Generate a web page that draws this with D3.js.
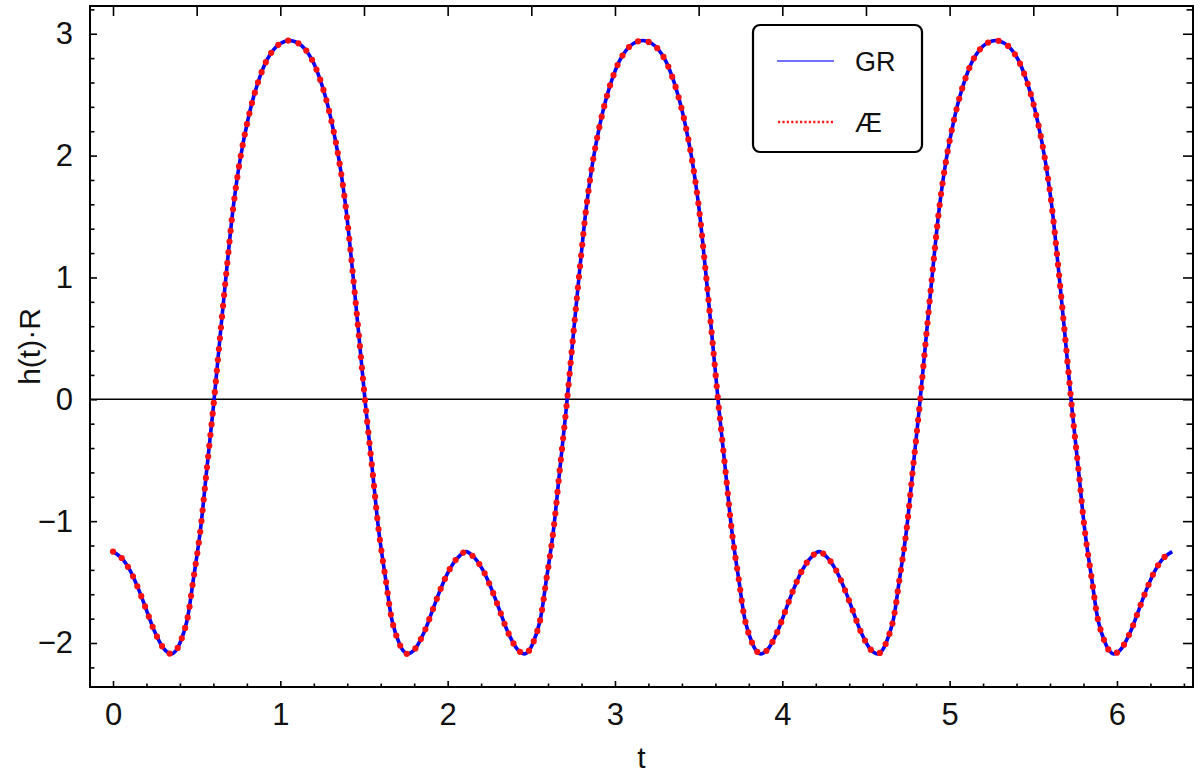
<!DOCTYPE html>
<html>
<head>
<meta charset="utf-8">
<script src="https://cdn.jsdelivr.net/npm/d3@7"></script>
<style>
  html, body { margin: 0; padding: 0; background: #fff; }
  svg { display: block; }
  text { font-family: "Liberation Sans", Arial, sans-serif; fill: #111; }
</style>
</head>
<body>
<svg id="chart" width="1200" height="777"></svg>
<script>
// ---- data ----
const tValues = [
  0.00, 0.05, 0.10, 0.15, 0.20, 0.25, 0.30, 0.325, 0.35, 0.375, 0.40, 0.44, 0.48, 0.52, 0.56, 0.60, 0.64, 0.68, 0.72, 0.76, 0.80, 0.84, 0.88, 0.92, 0.96, 1.00, 1.055,
  1.11, 1.15, 1.19, 1.23, 1.27, 1.31, 1.35, 1.39, 1.43, 1.47, 1.51, 1.55, 1.59, 1.63, 1.67, 1.71, 1.735, 1.76, 1.785, 1.81, 1.86, 1.91, 1.96, 2.01, 2.06, 2.11,
  2.16, 2.21, 2.26, 2.31, 2.36, 2.41, 2.435, 2.46, 2.485, 2.51, 2.55, 2.59, 2.63, 2.67, 2.71, 2.75, 2.79, 2.83, 2.87, 2.91, 2.95, 2.99, 3.03, 3.07, 3.11, 3.165,
  3.22, 3.26, 3.30, 3.34, 3.38, 3.42, 3.46, 3.50, 3.54, 3.58, 3.62, 3.66, 3.70, 3.74, 3.78, 3.82, 3.845, 3.87, 3.895, 3.92, 3.97, 4.02, 4.07, 4.12, 4.17, 4.22,
  4.27, 4.32, 4.37, 4.42, 4.47, 4.52, 4.545, 4.57, 4.595, 4.62, 4.66, 4.70, 4.74, 4.78, 4.82, 4.86, 4.90, 4.94, 4.98, 5.02, 5.06, 5.10, 5.14, 5.18, 5.22, 5.275,
  5.33, 5.37, 5.41, 5.45, 5.49, 5.53, 5.57, 5.61, 5.65, 5.69, 5.73, 5.77, 5.81, 5.85, 5.89, 5.93, 5.955, 5.98, 6.005, 6.03, 6.08, 6.13, 6.18, 6.23, 6.28, 6.33
];
const hGR = [
  -1.25, -1.30, -1.40, -1.55, -1.73, -1.91, -2.04, -2.075, -2.09, -2.065, -2.00, -1.83, -1.48, -1.10, -0.58, -0.06, 0.515, 1.075, 1.59, 1.97, 2.255, 2.48, 2.655, 2.785, 2.87, 2.92, 2.945,
  2.92, 2.87, 2.785, 2.655, 2.48, 2.255, 1.97, 1.59, 1.075, 0.515, -0.06, -0.58, -1.10, -1.48, -1.83, -2.00, -2.065, -2.09, -2.075, -2.04, -1.91, -1.73, -1.55, -1.40, -1.30, -1.25,
  -1.30, -1.40, -1.55, -1.73, -1.91, -2.04, -2.075, -2.09, -2.065, -2.00, -1.83, -1.48, -1.10, -0.58, -0.06, 0.515, 1.075, 1.59, 1.97, 2.255, 2.48, 2.655, 2.785, 2.87, 2.92, 2.945,
  2.92, 2.87, 2.785, 2.655, 2.48, 2.255, 1.97, 1.59, 1.075, 0.515, -0.06, -0.58, -1.10, -1.48, -1.83, -2.00, -2.065, -2.09, -2.075, -2.04, -1.91, -1.73, -1.55, -1.40, -1.30, -1.25,
  -1.30, -1.40, -1.55, -1.73, -1.91, -2.04, -2.075, -2.09, -2.065, -2.00, -1.83, -1.48, -1.10, -0.58, -0.06, 0.515, 1.075, 1.59, 1.97, 2.255, 2.48, 2.655, 2.785, 2.87, 2.92, 2.945,
  2.92, 2.87, 2.785, 2.655, 2.48, 2.255, 1.97, 1.59, 1.075, 0.515, -0.06, -0.58, -1.10, -1.48, -1.83, -2.00, -2.065, -2.09, -2.075, -2.04, -1.91, -1.73, -1.55, -1.40, -1.30, -1.25
];
// Æ curve coincides with GR at the picture's resolution
const hAE = hGR.slice();

const seriesNames = ["GR", "Æ"];
const xTickLabels = [0, 1, 2, 3, 4, 5, 6];
const yTickLabels = [-2, -1, 0, 1, 2, 3];
const xLabel = "t";
const yLabel = "h(t)·R";

// ---- layout ----
const svg = d3.select("#chart");
const L = 90, R = 1193, T = 6, B = 687;

const x = d3.scaleLinear().domain([-0.1375, 6.4545]).range([L, R]);
const y = d3.scaleLinear().domain([-2.3611, 3.2277]).range([B, T]);

const minorX = d3.range(0, 6.46, 0.2).map(v => +v.toFixed(2)).filter(v => !xTickLabels.includes(v));
const minorY = d3.range(-2.2, 3.23, 0.2).map(v => +v.toFixed(2)).filter(v => !yTickLabels.includes(v));
const topTicks = d3.range(0, 6.46, 0.5);

function styleAxis(g) {
  g.select(".domain").remove();
  g.selectAll("line").attr("stroke", "#000").attr("stroke-width", 1.6);
  g.selectAll("text").attr("font-size", 31).attr("fill", "#111")
    .attr("font-family", '"Liberation Sans", Arial, sans-serif');
}

// zero line
svg.append("line")
  .attr("x1", L).attr("x2", R).attr("y1", y(0)).attr("y2", y(0))
  .attr("stroke", "#000").attr("stroke-width", 1.6);

// curves
const lineGen = d3.line().x(d => x(d[0])).y(d => y(d[1])).curve(d3.curveCatmullRom.alpha(0.5));
const gr = tValues.map((t, i) => [t, hGR[i]]);
const ae = tValues.map((t, i) => [t, hAE[i]]);

svg.append("clipPath").attr("id", "clip").append("rect")
  .attr("x", L).attr("y", T).attr("width", R - L).attr("height", B - T);

svg.append("path").datum(gr).attr("d", lineGen)
  .attr("fill", "none").attr("stroke", "#0000ff").attr("stroke-width", 3.6)
  .attr("clip-path", "url(#clip)");
svg.append("path").datum(ae).attr("d", lineGen)
  .attr("fill", "none").attr("stroke", "#ff1010").attr("stroke-width", 6.2)
  .attr("stroke-linecap", "round").attr("stroke-dasharray", "0 10.8")
  .attr("clip-path", "url(#clip)");

// axes: bottom
svg.append("g").attr("transform", `translate(0,${B})`)
  .call(d3.axisBottom(x).tickValues(xTickLabels).tickSize(-6).tickPadding(16).tickFormat(d3.format("d")))
  .call(styleAxis);
svg.append("g").attr("transform", `translate(0,${B})`)
  .call(d3.axisBottom(x).tickValues(minorX).tickSize(-3.5).tickFormat(""))
  .call(styleAxis);
// top
svg.append("g").attr("transform", `translate(0,${T})`)
  .call(d3.axisTop(x).tickValues(topTicks).tickSize(-10).tickFormat(""))
  .call(styleAxis);
// left
svg.append("g").attr("transform", `translate(${L},0)`)
  .call(d3.axisLeft(y).tickValues(yTickLabels).tickSize(-7).tickPadding(17)
        .tickFormat(d => d < 0 ? "\u2212" + Math.abs(d) : String(d)))
  .call(styleAxis);
svg.append("g").attr("transform", `translate(${L},0)`)
  .call(d3.axisLeft(y).tickValues(minorY).tickSize(-4.5).tickFormat(""))
  .call(styleAxis);
// right
svg.append("g").attr("transform", `translate(${R},0)`)
  .call(d3.axisRight(y).tickValues(yTickLabels).tickSize(-10).tickFormat(""))
  .call(styleAxis);
svg.append("g").attr("transform", `translate(${R},0)`)
  .call(d3.axisRight(y).tickValues(minorY).tickSize(-6.5).tickFormat(""))
  .call(styleAxis);

// frame
svg.append("rect").attr("x", L).attr("y", T).attr("width", R - L).attr("height", B - T)
  .attr("fill", "none").attr("stroke", "#000").attr("stroke-width", 2);

// axis labels
svg.append("text").attr("x", (L + R) / 2).attr("y", 768)
  .attr("text-anchor", "middle").attr("font-size", 30).text(xLabel);
svg.append("text")
  .attr("transform", `translate(40,${(T + B) / 2}) rotate(-90)`)
  .attr("text-anchor", "middle").attr("font-size", 30).text(yLabel);

// legend
const lg = svg.append("g");
lg.append("rect").attr("x", 753).attr("y", 25).attr("width", 169).attr("height", 127)
  .attr("rx", 7).attr("fill", "#fff").attr("stroke", "#000").attr("stroke-width", 2.2);
const legendY = [61, 122];
lg.append("line").attr("x1", 777).attr("x2", 834).attr("y1", legendY[0]).attr("y2", legendY[0])
  .attr("stroke", "#7070ff").attr("stroke-width", 2.2);
lg.append("line").attr("x1", 778).attr("x2", 834).attr("y1", legendY[1]).attr("y2", legendY[1])
  .attr("stroke", "#ff1a1a").attr("stroke-width", 2.4).attr("stroke-dasharray", "2.2 2.2");
seriesNames.forEach((name, i) => {
  lg.append("text").attr("x", 855).attr("y", legendY[i] + 10).attr("font-size", 27).text(name);
});
</script>
</body>
</html>
